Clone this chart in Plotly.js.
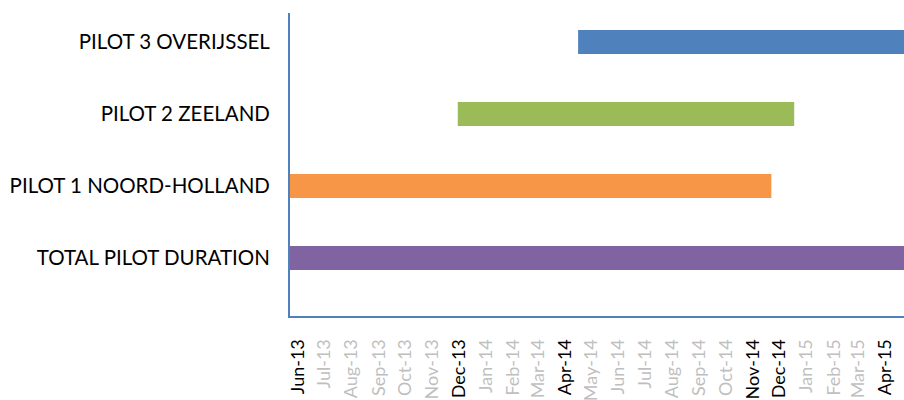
<!DOCTYPE html>
<html>
<head>
<meta charset="utf-8">
<script src="https://cdn.plot.ly/plotly-3.0.1.min.js"></script>
<style>
  html, body { margin: 0; padding: 0; background: #ffffff; }
  #chart { width: 904px; height: 400px; }
</style>
</head>
<body>
<div id="chart"></div>
<script>
// ---- data ----
const categories = ['TOTAL PILOT DURATION', 'PILOT 1 NOORD-HOLLAND', 'PILOT 2 ZEELAND', 'PILOT 3 OVERIJSSEL'];
const startDates = ['2013-06-01', '2013-06-01', '2013-12-09', '2014-04-25'];
const endDates   = ['2015-05-01', '2014-12-01', '2014-12-27', '2015-05-01'];
const tickDates = ['2013-06-01','2013-07-01','2013-08-01','2013-09-01','2013-10-01','2013-11-01',
                   '2013-12-01','2014-01-01','2014-02-01','2014-03-01','2014-04-01','2014-05-01',
                   '2014-06-01','2014-07-01','2014-08-01','2014-09-01','2014-10-01','2014-11-01',
                   '2014-12-01','2015-01-01','2015-02-01','2015-03-01','2015-04-01'];
const tickLabels = ['Jun-13','Jul-13','Aug-13','Sep-13','Oct-13','Nov-13','Dec-13','Jan-14','Feb-14',
                    'Mar-14','Apr-14','May-14','Jun-14','Jul-14','Aug-14','Sep-14','Oct-14','Nov-14',
                    'Dec-14','Jan-15','Feb-15','Mar-15','Apr-15'];
const keyLabels = ['Jun-13','Dec-13','Apr-14','Nov-14','Dec-14','Apr-15'];

// ---- styles ----
const barColors = ['#8064A2', '#F79646', '#9BBB59', '#4F81BD'];
const axisBlue = '#4F81BD';

const durations = startDates.map((s, i) => new Date(endDates[i]) - new Date(s));
const tickText = tickLabels.map(l => keyLabels.includes(l) ? l : '<span style="color:#BFBFBF">' + l + '</span>');

const trace = {
  type: 'bar',
  orientation: 'h',
  y: categories,
  x: durations,
  base: startDates,
  width: 0.333,
  marker: { color: barColors, line: { width: 0 } },
  hoverinfo: 'none'
};

const layout = {
  width: 904,
  height: 400,
  margin: { l: 290, r: 0, t: 13, b: 84, pad: 0 },
  paper_bgcolor: '#ffffff',
  plot_bgcolor: '#ffffff',
  showlegend: false,
  font: { family: 'Lato, sans-serif', color: '#000000' },
  xaxis: {
    type: 'date',
    range: ['2013-06-01', '2015-05-01'],
    tickmode: 'array',
    tickvals: tickDates,
    ticktext: tickText,
    tickangle: -90,
    ticks: '',
    ticklabelshift: 8,
    ticklabelstandoff: 14,
    tickfont: { family: 'Lato, sans-serif', size: 18, color: '#000000' },
    showline: true,
    linecolor: axisBlue,
    linewidth: 2,
    showgrid: false,
    zeroline: false,
    fixedrange: true
  },
  yaxis: {
    type: 'category',
    categoryorder: 'array',
    categoryarray: categories,
    range: [-0.806, 3.403],
    ticks: '',
    ticklabelstandoff: 14,
    tickfont: { family: 'Lato, sans-serif', size: 20.5, color: '#000000' },
    showline: true,
    linecolor: axisBlue,
    linewidth: 2,
    showgrid: false,
    zeroline: false,
    fixedrange: true
  }
};

Plotly.newPlot('chart', [trace], layout, { displayModeBar: false, staticPlot: true });
</script>
</body>
</html>
